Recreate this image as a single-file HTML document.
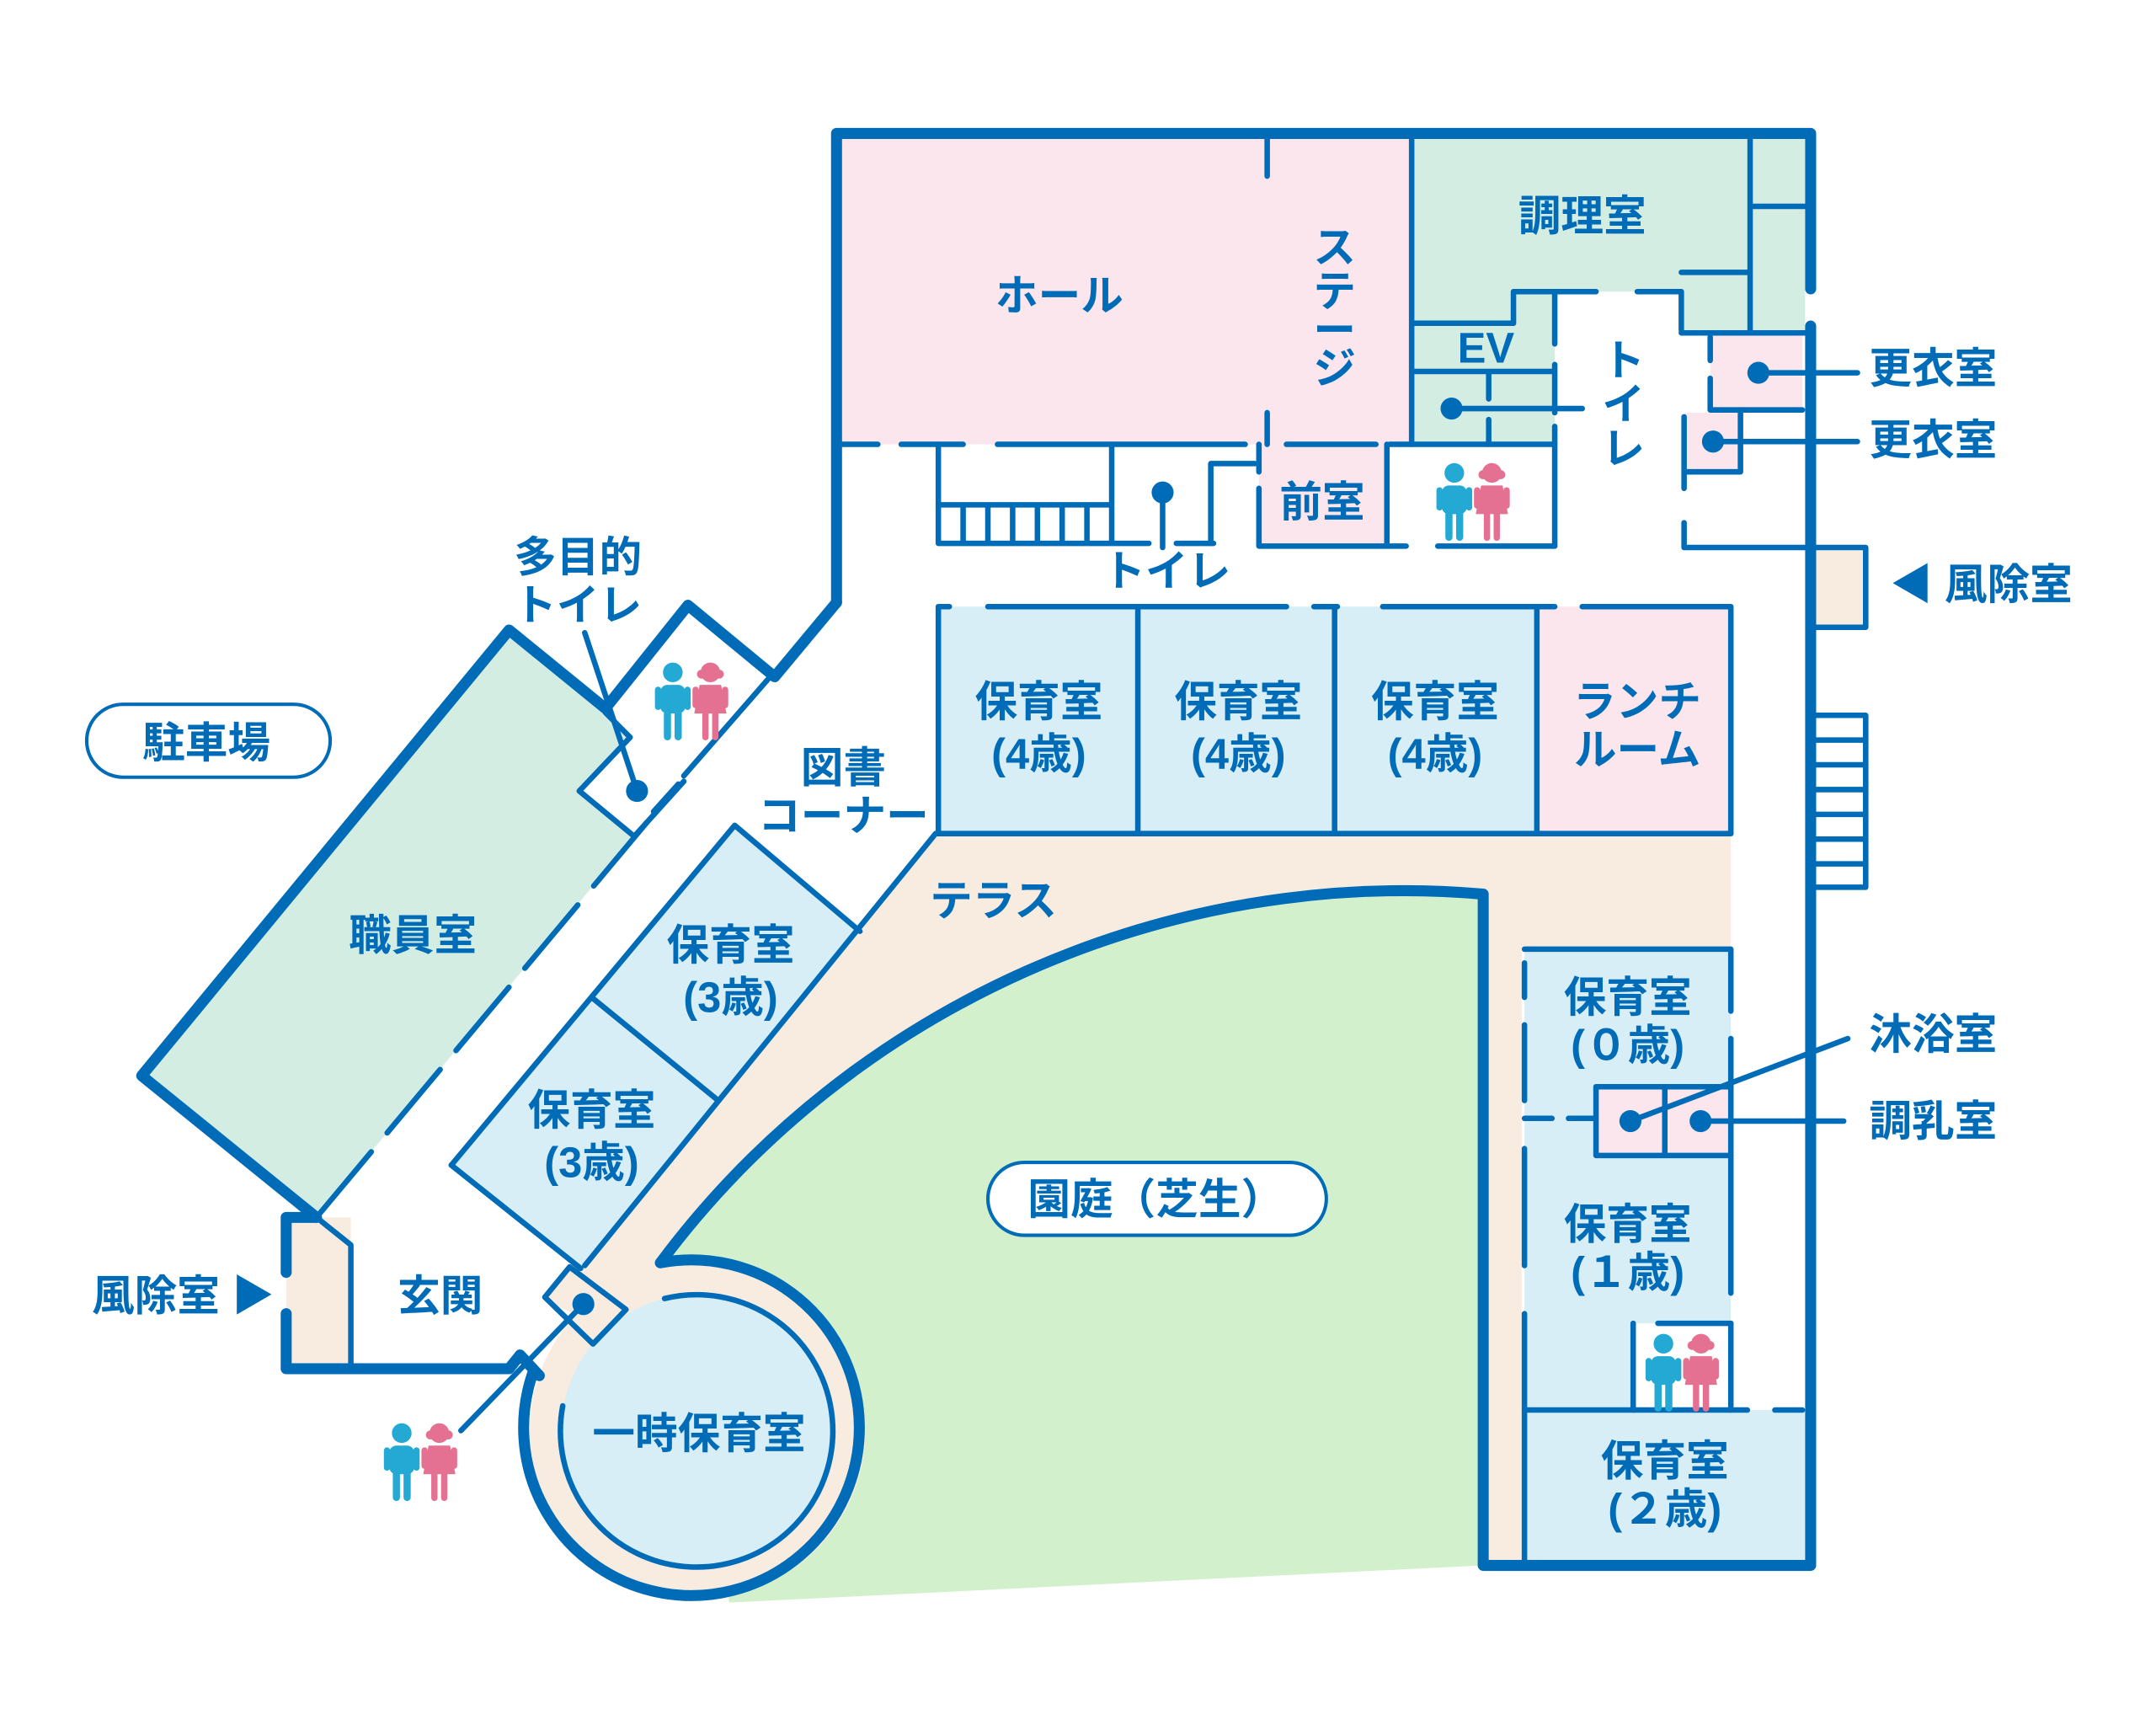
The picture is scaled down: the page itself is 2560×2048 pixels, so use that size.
<!DOCTYPE html>
<html><head><meta charset="utf-8"><style>
html,body{margin:0;padding:0;background:#fff;}
svg{display:block}
text{font-family:"Liberation Sans","Noto Sans CJK JP",sans-serif;font-weight:bold;fill:#006cb8;font-size:31px;text-anchor:middle;dominant-baseline:central}
</style></head><body>
<svg width="2560" height="2048" viewBox="0 0 1567 1254" preserveAspectRatio="none" xmlns="http://www.w3.org/2000/svg">
<defs>
<g id="kids">
 <g fill="#23a9d4"><circle cx="0" cy="-14" r="5.5"/><rect x="-7" y="-7" width="14" height="16" rx="4"/><rect x="-5" y="6" width="4" height="18" rx="2"/><rect x="1" y="6" width="4" height="18" rx="2"/><rect x="-10" y="-6" width="3.5" height="13" rx="1.7"/><rect x="6.5" y="-6" width="3.5" height="13" rx="1.7"/></g>
 <g fill="#e57192" transform="translate(21,0)"><circle cx="0" cy="-14" r="5.5"/><circle cx="-5" cy="-13" r="2.5"/><circle cx="5" cy="-13" r="2.5"/><path d="M-6,-7 H6 L9,9 H-9 Z"/><rect x="-4.5" y="6" width="3.5" height="18" rx="1.7"/><rect x="1" y="6" width="3.5" height="18" rx="1.7"/><rect x="-10" y="-6" width="3.5" height="12" rx="1.7"/><rect x="6.5" y="-6" width="3.5" height="12" rx="1.7"/></g>
</g>
</defs>
<g stroke="none">
<path d="M680,606 L1258,606 L1258,690 L1106,690 L1106,1136 L1078,1136 L1078,650 C850,630 620,730 480,918 L440,965 L395,945 Z" fill="#f8ece1"/>
<path d="M1078,650 C850,630 620,730 480,918 L530,1165 L1078,1138 Z" fill="#d3f0cd"/>
<circle cx="507" cy="1040" r="122" fill="#f8ece1"/>
<circle cx="507" cy="1040" r="99" fill="#d8eef6"/>
<rect x="612" y="101" width="413" height="222" fill="#fae6ec"/>
<path d="M1026,101 H1312 V242 H1222 V212 H1130 V323 H1026 Z" fill="#d4ede3"/>
<rect x="1243" y="242" width="67" height="56" fill="#fae6ec"/>
<rect x="1224" y="300" width="41" height="43" fill="#fae6ec"/>
<rect x="915" y="323" width="93" height="74" fill="#fae6ec"/>
<rect x="682" y="441" width="435" height="165" fill="#d8eef6"/>
<rect x="1117" y="441" width="141" height="165" fill="#fae6ec"/>
<rect x="1108" y="690" width="150" height="335" fill="#d8eef6"/>
<rect x="1108" y="1025" width="204" height="110" fill="#d8eef6"/>
<rect x="1187" y="962" width="71" height="63" fill="#fff"/>
<rect x="1160" y="790" width="98" height="50" fill="#fae6ec"/>
<rect x="1318" y="398" width="38" height="58" fill="#f8ece1"/>
<path d="M370,458 L440,518 L458,536 L421,575 L461,608 L230,885 L103,782 Z" fill="#d4ede3"/>
<path d="M534,600 L625,677 L422,922 L328,847 Z" fill="#d8eef6"/>
<rect x="208" y="885" width="47" height="110" fill="#f8ece1"/>
</g>

<g fill="none" stroke="#006cb8" stroke-linecap="round" stroke-linejoin="round">
<g stroke-width="8">
<path d="M608,438 V97 H1316 V210"/>
<path d="M1316,237 V1138 H1078 V650 C850,630 620,730 480,918"/>
<path d="M608,438 L563,492 L500,440 L440,515 L370,458 L103,782 L230,885"/>
<path d="M208,925 V885 H230 M208,955 V995 H370 L378,985 L392,1000"/>
<path d="M480,918 A122,122 0 1 1 388,996"/>
</g>
<g stroke-width="4">
<path d="M921,101 V128 M921,300 V323"/>
<path d="M612,323 H638 M655,323 H700 M725,323 H905 M935,323 H1000 M1010,323 H1130"/>
<path d="M1026,101 V323 M1026,235 H1100 V212 H1160 M1190,212 H1222 V240 M1222,198 H1270 M1272,101 V240 M1272,150 H1312 M1222,242 H1312"/>
<path d="M1026,270 H1130 M1082,270 V290 M1082,305 V323 M1130,212 V250 M1130,265 V300 M1130,310 V397"/>
<path d="M1055,297 H1150"/>
<path d="M1243,245 V262 M1243,275 V298 H1310 M1278,271 H1350"/>
<path d="M1224,303 V355 M1265,298 V343 H1224 M1245,321 H1350"/>
<path d="M1224,380 V398 H1316"/>
<path d="M1318,398 H1356 V456 H1318"/>
<path d="M1318,520 H1356 V645 H1318 M1318,538 H1356 M1318,556 H1356 M1318,574 H1356 M1318,592 H1356 M1318,610 H1356 M1318,628 H1356"/>
<path d="M682,323 V395 H835 M855,395 H882 M808,323 V395 M682,367 H808 M700,367 V395 M718,367 V395 M736,367 V395 M754,367 V395 M772,367 V395 M790,367 V395"/>
<path d="M845,358 V398 M880,395 V337 H912"/>
<path d="M915,323 V343 M915,355 V397 H1022 M1045,397 H1130 M1008,323 V397"/>
<path d="M682,441 H690 M718,441 H935 M955,441 H972 M1005,441 H1130 M1150,441 H1258 V606 M682,441 V606 M827,441 V606 M970,441 V606 M1117,441 V606"/>
<path d="M680,606 H1258 M680,606 L425,920"/>
<path d="M1108,690 H1258 V735 M1258,755 V940 M1258,962 V1025"/>
<path d="M1108,700 V725 M1108,745 V800 M1108,835 V920 M1108,955 V1135"/>
<path d="M1108,813 H1128 M1140,813 H1160 M1160,790 H1258 M1160,790 V840 H1258 M1210,790 V840"/>
<path d="M1185,815 L1343,755 M1236,815 H1340"/>
<path d="M1187,1025 V962 M1205,962 H1258"/>
<path d="M1108,1025 H1270 M1290,1025 H1310"/>
<path d="M440,518 L458,536 L421,575 L461,608 L497,568 M497,564 L558,494"/>
<path d="M493,570 L475,590 M470,598 L230,885" stroke-dasharray="60 18"/>
<path d="M425,460 L463,575"/>
<path d="M534,600 L625,677 M430,725 L522,800 M534,600 L328,847"/>
<path d="M328,847 L422,922"/>
<path d="M230,885 L255,905 V995"/>
<path d="M396,943 L414,921 L455,952 L431,977 Z"/>
<path d="M424,948 L335,1040"/>
<path d="M483,944 A99,99 0 1 1 409,1022"/>
</g>
<rect x="63" y="512" width="177" height="53" rx="26.5" stroke-width="2.5"/>
<rect x="718" y="845" width="246" height="53" rx="26.5" stroke-width="2.5" fill="#fff"/>
</g>
<g fill="#006cb8">
<circle cx="1055" cy="297" r="8"/><circle cx="1278" cy="271" r="8"/><circle cx="1245" cy="321" r="8"/>
<circle cx="845" cy="358" r="8"/><circle cx="463" cy="575" r="8"/><circle cx="424" cy="948" r="8"/>
<circle cx="1185" cy="815" r="8"/><circle cx="1236" cy="815" r="8"/>
</g>
<use href="#kids" transform="translate(1057,362) scale(1.3)"/>
<use href="#kids" transform="translate(489,507) scale(1.3)"/>
<use href="#kids" transform="translate(1209,995) scale(1.3)"/>
<use href="#kids" transform="translate(292,1060) scale(1.3)"/>

<text x="770" y="215">ホール</text>
<text x="970" y="180">ス</text><text x="970" y="212">テ</text><text x="970" y="240">ー</text><text x="970" y="268">ジ</text>
<text x="1150" y="157">調理室</text>
<text x="1080" y="253">EV</text>
<text x="1180" y="262">ト</text><text x="1180" y="294">イ</text><text x="1180" y="326">レ</text>
<text x="961" y="365">前室</text>
<text x="848" y="415">トイレ</text>
<text x="1405" y="268">更衣室</text>
<text x="1405" y="320">更衣室</text>
<text x="1440" y="425">◀ 風除室</text>
<text x="755" y="510">保育室</text><text x="755" y="548">(4歳)</text>
<text x="900" y="510">保育室</text><text x="900" y="548">(4歳)</text>
<text x="1043" y="510">保育室</text><text x="1043" y="548">(4歳)</text>
<text x="1190" y="510">ランチ</text><text x="1190" y="545">ルーム</text>
<text x="613" y="558">図書</text><text x="613" y="593">コーナー</text>
<text x="722" y="655">テラス</text>
<text x="150" y="540">駐車場</text>
<text x="300" y="680">職員室</text>
<text x="531" y="687">保育室</text><text x="531" y="725">(3歳)</text>
<text x="430" y="807">保育室</text><text x="430" y="845">(3歳)</text>
<text x="840" y="872">園庭（芝生）</text>
<text x="1183" y="725">保育室</text><text x="1183" y="760">(０歳)</text>
<text x="1183" y="890">保育室</text><text x="1183" y="925">(１歳)</text>
<text x="1210" y="1062">保育室</text><text x="1210" y="1097">(２歳)</text>
<text x="1405" y="752">沐浴室</text>
<text x="1405" y="815">調乳室</text>
<text x="133" y="942">風除室 ▶</text>
<text x="320" y="942">玄関</text>
<text x="508" y="1042">一時保育室</text>
<text x="420" y="405">多目的</text><text x="420" y="440">トイレ</text>
</svg>
</body></html>
